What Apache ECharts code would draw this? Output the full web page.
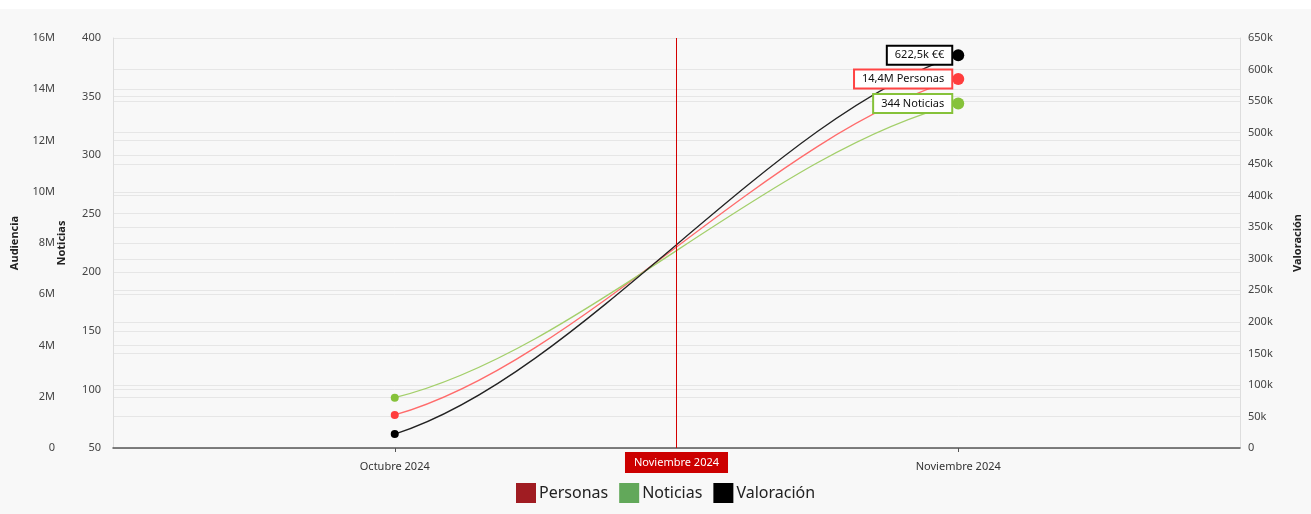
<!DOCTYPE html>
<html>
<head>
<meta charset="utf-8">
<script src="https://cdn.jsdelivr.net/npm/echarts@6/dist/echarts.min.js"></script>
<style>
  html, body { margin: 0; padding: 0; background: #ffffff; overflow: hidden; }
  #chart { position: absolute; left: 0; top: 9px; width: 1311px; height: 505px; }
</style>
</head>
<body>
<div id="chart"></div>
<script>
const categories = ['Octubre 2024', 'Noviembre 2024'];
const personas = [1290000, 14400000];
const noticias = [93, 344];
const valoracion = [22000, 622500];
const markerCategory = 'Noviembre 2024';

const FONT = 'Noto Sans';
const chart = echarts.init(document.getElementById('chart'));

function fmtDec(v) { return v.toFixed(1).replace('.', ','); }

function endData(arr) {
  const last = arr.length - 1;
  return arr.map((v, i) => i === last
    ? { value: v, symbolSize: 12, label: { show: true } }
    : { value: v, symbolSize: 8 });
}

function segments(arr) {
  return arr.slice(0, -1).map((v, i) => [i, v, i + 1, arr[i + 1]]);
}

// smooth spline segment drawn through the axes' own coordinate mapping
function curveSeries(name, yIndex, arr, color) {
  return {
    name: name,
    type: 'custom',
    xAxisIndex: 0,
    yAxisIndex: yIndex,
    z: 2,
    silent: true,
    encode: { x: [0, 2], y: [1, 3] },
    data: segments(arr),
    renderItem: function (params, api) {
      const p0 = api.coord([api.value(0), api.value(1)]);
      const p1 = api.coord([api.value(2), api.value(3)]);
      const dx = p1[0] - p0[0];
      const dy = p1[1] - p0[1];
      const a = 1 / 3, b = 0.16;
      return {
        type: 'bezierCurve',
        shape: {
          x1: p0[0], y1: p0[1],
          x2: p1[0], y2: p1[1],
          cpx1: p0[0] + a * dx, cpy1: p0[1] + b * dy,
          cpx2: p1[0] - a * dx, cpy2: p1[1] - b * dy
        },
        style: { stroke: color, fill: null, lineWidth: 1.3 }
      };
    }
  };
}

function endLabel(color, formatter) {
  return {
    show: false,
    position: 'left',
    distance: 1,
    formatter: formatter,
    backgroundColor: '#ffffff',
    borderColor: color,
    borderWidth: 2,
    padding: [3, 7, 3, 7],
    fontSize: 11,
    fontFamily: FONT,
    color: '#111'
  };
}

function pointSeries(name, yIndex, arr, color, labelColor, formatter) {
  return {
    name: name,
    type: 'line',
    xAxisIndex: 0,
    yAxisIndex: yIndex,
    symbol: 'circle',
    showAllSymbol: true,
    z: 3,
    itemStyle: { color: color },
    lineStyle: { width: 0, opacity: 0 },
    label: endLabel(labelColor, formatter),
    data: endData(arr)
  };
}

const axisLabelStyle = { fontSize: 11, color: '#444', fontFamily: FONT };
const nameStyle = { fontSize: 11, fontWeight: 'bold', color: '#222', fontFamily: FONT };
const splitLine = { show: true, lineStyle: { color: '#e6e6e6', width: 1 } };

chart.setOption({
  backgroundColor: '#f8f8f8',
  animation: false,
  textStyle: { fontFamily: FONT },
  grid: { left: 113, right: 67, top: 29, bottom: 66 },
  legend: {
    bottom: 6,
    left: 511,
    itemWidth: 20,
    itemHeight: 20,
    itemGap: 11,
    icon: 'rect',
    textStyle: { fontSize: 16, color: '#222', fontFamily: FONT, padding: [0, 0, 0, -2] },
    data: [
      { name: 'Personas', itemStyle: { color: '#a01c22' } },
      { name: 'Noticias', itemStyle: { color: '#62a85a' } },
      { name: 'Valoración', itemStyle: { color: '#000000' } }
    ]
  },
  xAxis: [
    {
      type: 'category',
      data: categories,
      boundaryGap: true,
      axisLine: { lineStyle: { color: '#555', width: 1.5 } },
      axisTick: { show: true, alignWithLabel: true, length: 4, lineStyle: { color: '#555' } },
      axisLabel: Object.assign({ margin: 13 }, axisLabelStyle, { color: '#333' }),
      splitLine: { show: false }
    },
    {
      type: 'value',
      min: -0.5,
      max: 1.5,
      show: false
    }
  ],
  yAxis: [
    {
      type: 'value',
      name: 'Audiencia',
      nameLocation: 'middle',
      nameRotate: 90,
      nameGap: 47,
      nameTextStyle: nameStyle,
      position: 'left',
      offset: 46,
      min: 0,
      max: 16000000,
      interval: 2000000,
      axisLine: { show: false },
      axisTick: { show: false },
      axisLabel: Object.assign({ margin: 12, formatter: v => v === 0 ? '0' : (v / 1000000) + 'M' }, axisLabelStyle),
      splitLine: splitLine
    },
    {
      type: 'value',
      name: 'Noticias',
      nameLocation: 'middle',
      nameRotate: 90,
      nameGap: 46,
      nameTextStyle: nameStyle,
      position: 'left',
      offset: 0,
      min: 50,
      max: 400,
      interval: 50,
      axisLine: { show: true, lineStyle: { color: '#dddddd' } },
      axisTick: { show: false },
      axisLabel: Object.assign({ margin: 12 }, axisLabelStyle),
      splitLine: splitLine
    },
    {
      type: 'value',
      name: 'Valoración',
      nameLocation: 'middle',
      nameRotate: 90,
      nameGap: 52,
      nameTextStyle: nameStyle,
      position: 'right',
      offset: 0,
      min: 0,
      max: 650000,
      interval: 50000,
      axisLine: { show: true, lineStyle: { color: '#dddddd' } },
      axisTick: { show: false },
      axisLabel: Object.assign({ margin: 8, formatter: v => v === 0 ? '0' : (v / 1000) + 'k' }, axisLabelStyle),
      splitLine: splitLine
    }
  ],
  series: [
    curveSeries('Personas', 0, personas, '#ff6b6b'),
    curveSeries('Noticias', 1, noticias, '#a3cf6a'),
    curveSeries('Valoración', 2, valoracion, '#222222'),
    pointSeries('Personas', 0, personas, '#ff3d3d', '#ff4444', p => fmtDec(p.value / 1000000) + 'M Personas'),
    pointSeries('Noticias', 1, noticias, '#86c23a', '#86c23a', p => p.value + ' Noticias'),
    pointSeries('Valoración', 2, valoracion, '#000000', '#000000', p => fmtDec(p.value / 1000) + 'k €€'),
    {
      name: 'marker',
      type: 'line',
      xAxisIndex: 1,
      yAxisIndex: 0,
      data: [],
      z: 4,
      markLine: {
        silent: true,
        symbol: 'none',
        lineStyle: { color: '#d40000', width: 1, type: 'solid' },
        label: {
          show: true,
          position: 'start',
          distance: 4,
          formatter: markerCategory,
          backgroundColor: '#cc0000',
          color: '#ffffff',
          fontSize: 11,
          fontFamily: FONT,
          padding: [5, 9, 5, 9]
        },
        data: [{ xAxis: categories.indexOf(markerCategory) - 0.5 }]
      }
    }
  ]
});
</script>
</body>
</html>
